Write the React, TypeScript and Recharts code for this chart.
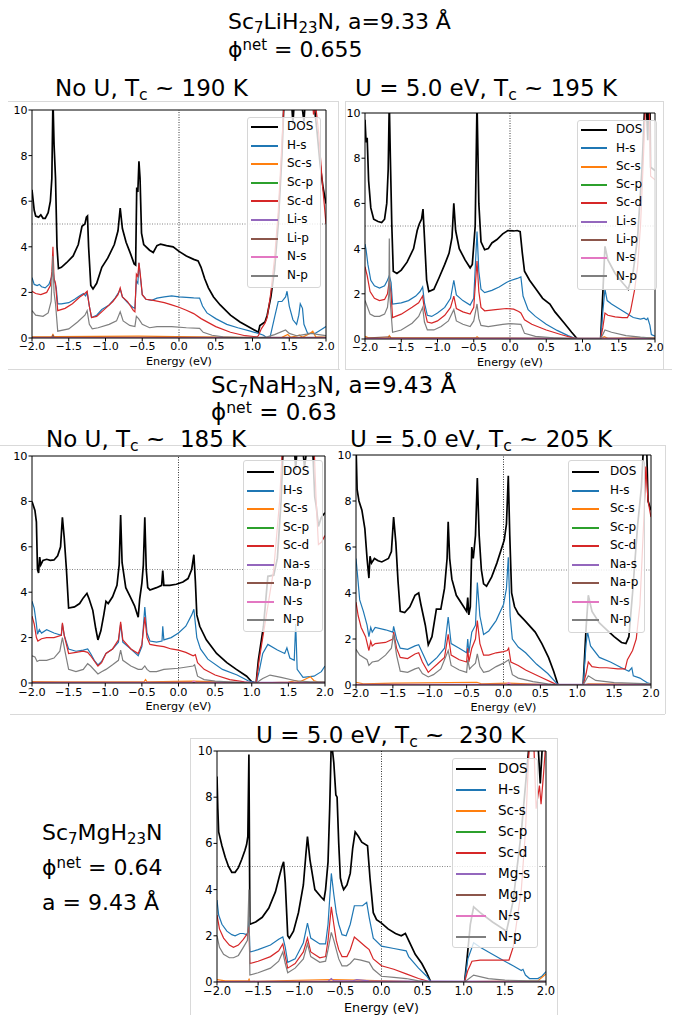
import React from "react";
import { LineChart, Line, XAxis, YAxis, ReferenceLine } from "recharts";

type P = [number, number];

const xTicks = [-2, -1.5, -1, -0.5, 0, 0.5, 1, 1.5, 2];
const yTicks = [0, 2, 4, 6, 8, 10];
const COLORS = ["#000000", "#1f77b4", "#ff7f0e", "#2ca02c", "#d62728", "#9467bd", "#8c564b", "#e377c2", "#7f7f7f"];
const labelsLi = ["DOS", "H-s", "Sc-s", "Sc-p", "Sc-d", "Li-s", "Li-p", "N-s", "N-p"];
const labelsNa = ["DOS", "H-s", "Sc-s", "Sc-p", "Sc-d", "Na-s", "Na-p", "N-s", "N-p"];
const labelsMg = ["DOS", "H-s", "Sc-s", "Sc-p", "Sc-d", "Mg-s", "Mg-p", "N-s", "N-p"];

// ---- Sc7LiH23N, no U ----
const liNoUDos: P[] = [[-2.0,6.5],[-1.97,5.6],[-1.95,5.35],[-1.91,5.3],[-1.88,5.4],[-1.85,5.25],[-1.82,5.25],[-1.78,5.5],[-1.75,6.0],[-1.73,7.0],[-1.715,10.5],[-1.7,8.5],[-1.68,7.0],[-1.66,4.0],[-1.64,3.05],[-1.6,3.1],[-1.53,3.3],[-1.44,3.6],[-1.37,4.1],[-1.32,4.9],[-1.28,5.0],[-1.26,5.3],[-1.245,5.35],[-1.23,4.0],[-1.2,2.3],[-1.17,2.15],[-1.12,2.4],[-1.05,3.1],[-0.97,3.5],[-0.88,4.1],[-0.83,4.7],[-0.8,5.7],[-0.77,4.8],[-0.72,4.2],[-0.66,3.7],[-0.61,3.25],[-0.59,3.2],[-0.575,6.6],[-0.56,6.4],[-0.545,7.75],[-0.53,7.0],[-0.51,4.6],[-0.48,4.1],[-0.4,3.85],[-0.35,3.75],[-0.3,4.05],[-0.25,4.12],[-0.17,4.05],[-0.08,4.0],[0.0,3.8],[0.1,3.6],[0.2,3.45],[0.26,3.38],[0.3,3.1],[0.35,2.6],[0.4,2.2],[0.47,1.8],[0.56,1.45],[0.7,1.0],[0.83,0.7],[0.97,0.45],[1.08,0.25],[1.1,0.55],[1.17,0.7],[1.2,1.0],[1.25,1.8],[1.3,3.0],[1.35,5.0],[1.4,8.0],[1.43,10.5],[1.5,12],[1.55,9.4],[1.6,12],[1.7,9.5],[1.75,12],[1.8,11],[1.84,10.2],[1.88,9.0],[1.92,7.6],[1.96,6.6],[2.0,5.9]];
const liNoUHs: P[] = [[-2.0,2.65],[-1.97,2.35],[-1.93,2.3],[-1.9,2.35],[-1.87,2.25],[-1.82,2.2],[-1.77,2.35],[-1.73,2.7],[-1.715,3.0],[-1.7,2.6],[-1.67,2.2],[-1.65,1.5],[-1.6,1.5],[-1.5,1.55],[-1.42,1.7],[-1.35,1.85],[-1.3,1.95],[-1.27,1.85],[-1.25,2.0],[-1.22,1.4],[-1.19,0.9],[-1.12,1.0],[-1.05,1.25],[-0.95,1.45],[-0.87,1.75],[-0.82,2.0],[-0.8,2.15],[-0.77,1.8],[-0.7,1.55],[-0.63,1.35],[-0.6,1.3],[-0.58,2.5],[-0.56,2.4],[-0.545,3.3],[-0.52,2.5],[-0.5,1.9],[-0.45,1.7],[-0.37,1.65],[-0.3,1.75],[-0.2,1.8],[-0.1,1.85],[0.0,1.8],[0.1,1.78],[0.2,1.76],[0.28,1.75],[0.32,1.4],[0.38,1.1],[0.5,0.85],[0.65,0.6],[0.8,0.45],[0.97,0.3],[1.08,0.2],[1.15,0.12],[1.2,0.0],[1.24,0.05],[1.3,0.9],[1.35,1.6],[1.4,1.6],[1.45,1.8],[1.47,2.05],[1.5,1.4],[1.55,0.8],[1.6,0.6],[1.63,1.0],[1.65,1.5],[1.68,1.3],[1.7,0.6],[1.75,0.2],[1.85,0.2],[1.9,0.3],[2.0,0.5]];
const liNoUScS: P[] = [[-2,0.05],[-1.73,0.06],[-1.715,0.15],[-1.7,0.06],[-0.55,0.08],[1.0,0.02],[1.4,0.03],[1.48,0.15],[1.52,0.03],[1.64,0.12],[1.68,0.03],[1.78,0.2],[1.82,0.3],[1.86,0.05],[2,0.03]];
const liNoUScP: P[] = [[-2,0.02],[1.2,0.01],[2,0.02]];
const liNoUScD: P[] = [[-2.0,2.05],[-1.95,1.95],[-1.88,1.9],[-1.8,2.0],[-1.75,2.3],[-1.73,2.9],[-1.715,4.0],[-1.7,2.6],[-1.68,2.4],[-1.65,1.2],[-1.55,1.3],[-1.45,1.5],[-1.35,1.8],[-1.28,1.95],[-1.25,2.05],[-1.22,1.4],[-1.19,0.9],[-1.12,0.95],[-1.0,1.3],[-0.9,1.6],[-0.83,1.9],[-0.8,2.2],[-0.77,1.8],[-0.7,1.6],[-0.62,1.2],[-0.6,1.15],[-0.58,2.8],[-0.56,2.7],[-0.545,3.3],[-0.52,2.6],[-0.5,1.9],[-0.45,1.7],[-0.35,1.65],[-0.2,1.55],[-0.1,1.45],[0.0,1.35],[0.1,1.22],[0.2,1.07],[0.3,0.85],[0.5,0.5],[0.7,0.25],[0.9,0.1],[1.06,0.05],[1.08,0.1],[1.12,0.4],[1.17,0.65],[1.2,0.9],[1.25,2.0],[1.3,3.5],[1.35,5.5],[1.4,8.5],[1.43,10.5],[1.8,11],[1.83,9.8],[1.86,10.2],[1.9,9.0],[1.95,6.8],[2.0,5.0]];
const liNoUAs: P[] = [[-2,0.02],[2,0.02]];
const liNoUAp: P[] = [[-2,0.03],[-1.73,0.03],[-1.715,0.12],[-1.7,0.03],[2,0.03]];
const liNoUNs: P[] = [[-2,0.01],[2,0.01]];
const liNoUNp: P[] = [[-2.0,1.2],[-1.95,1.0],[-1.85,0.95],[-1.78,1.1],[-1.74,1.6],[-1.715,3.6],[-1.7,2.0],[-1.68,1.5],[-1.65,0.3],[-1.5,0.4],[-1.38,0.7],[-1.28,1.0],[-1.25,1.2],[-1.22,0.6],[-1.18,0.4],[-1.1,0.45],[-0.95,0.6],[-0.85,0.75],[-0.8,1.15],[-0.76,0.75],[-0.67,0.55],[-0.6,0.5],[-0.58,0.95],[-0.55,0.85],[-0.5,0.6],[-0.4,0.45],[-0.3,0.5],[-0.1,0.5],[0.1,0.45],[0.28,0.42],[0.33,0.25],[0.45,0.12],[0.6,0.05],[0.8,0.02],[1.08,0.0],[1.2,0.05],[1.3,0.15],[1.45,0.35],[1.5,0.2],[1.6,0.1],[1.7,0.15],[1.8,0.2],[1.9,0.15],[2.0,0.1]];

// ---- Sc7LiH23N, U = 5 eV ----
const liUDos: P[] = [[-2.0,9.7],[-1.985,8.7],[-1.97,8.9],[-1.95,7.0],[-1.92,5.8],[-1.88,5.3],[-1.82,5.2],[-1.77,5.15],[-1.73,5.3],[-1.7,6.0],[-1.68,7.5],[-1.665,10.5],[-1.65,8.0],[-1.63,5.0],[-1.61,3.0],[-1.56,2.9],[-1.5,3.05],[-1.42,3.4],[-1.33,4.0],[-1.28,4.8],[-1.25,5.1],[-1.22,5.3],[-1.2,5.75],[-1.18,4.5],[-1.15,2.6],[-1.12,2.1],[-1.05,2.2],[-0.98,2.7],[-0.9,3.3],[-0.84,3.8],[-0.8,4.5],[-0.775,6.0],[-0.75,4.8],[-0.7,4.0],[-0.62,3.5],[-0.55,3.15],[-0.52,3.3],[-0.48,5.0],[-0.455,10.5],[-0.43,6.0],[-0.4,4.3],[-0.35,3.95],[-0.3,4.0],[-0.25,4.25],[-0.18,4.4],[-0.1,4.65],[-0.03,4.8],[0.05,4.78],[0.1,4.8],[0.14,4.75],[0.17,3.8],[0.2,3.0],[0.27,2.6],[0.35,2.25],[0.45,1.8],[0.55,1.55],[0.62,1.2],[0.75,0.7],[0.85,0.3],[0.93,0.0],[1.25,0.0],[1.28,2.0],[1.31,4.1],[1.35,3.5],[1.45,2.9],[1.55,2.5],[1.63,2.2],[1.7,3.0],[1.76,4.5],[1.82,7.5],[1.86,10.5],[1.88,10.5],[1.9,8.8],[1.91,10.5],[1.93,10.5],[1.94,7.6],[2.0,7.45]];
const liUHs: P[] = [[-2.0,4.2],[-1.985,3.95],[-1.96,3.3],[-1.92,2.6],[-1.87,2.35],[-1.8,2.25],[-1.73,2.35],[-1.69,2.6],[-1.665,2.8],[-1.64,2.5],[-1.62,1.55],[-1.5,1.6],[-1.4,1.7],[-1.3,1.9],[-1.24,2.1],[-1.205,2.3],[-1.18,1.6],[-1.14,1.05],[-1.08,1.0],[-1.0,1.15],[-0.9,1.4],[-0.82,1.8],[-0.775,2.6],[-0.74,1.95],[-0.65,1.7],[-0.55,1.5],[-0.5,1.8],[-0.455,4.75],[-0.43,3.0],[-0.4,2.2],[-0.35,2.05],[-0.25,2.15],[-0.15,2.3],[-0.05,2.5],[0.0,2.58],[0.1,2.68],[0.15,2.75],[0.18,1.9],[0.25,1.3],[0.35,1.0],[0.5,0.65],[0.65,0.38],[0.8,0.15],[0.92,0.0],[1.25,0.0],[1.28,1.2],[1.31,2.2],[1.34,1.7],[1.4,1.55],[1.5,1.35],[1.6,1.15],[1.7,0.95],[1.8,0.88],[1.85,0.92],[1.88,0.85],[1.9,0.92],[1.93,0.6],[1.95,0.2],[2.0,0.12]];
const liUScS: P[] = [[-2,0.12],[-1.95,0.05],[-1.68,0.05],[-1.665,0.15],[-1.64,0.05],[-0.47,0.05],[-0.455,0.1],[-0.43,0.04],[0.9,0.0],[1.25,0.0],[1.3,0.1],[1.35,0.03],[2,0.05]];
const liUScP: P[] = [[-2,0.02],[2,0.02]];
const liUScD: P[] = [[-2.0,3.2],[-1.97,2.8],[-1.93,2.1],[-1.87,1.8],[-1.8,1.7],[-1.73,1.75],[-1.69,2.0],[-1.665,2.6],[-1.64,2.0],[-1.62,0.95],[-1.5,1.1],[-1.35,1.4],[-1.26,1.6],[-1.205,1.9],[-1.18,1.3],[-1.14,0.75],[-1.08,0.7],[-1.0,0.8],[-0.9,1.05],[-0.82,1.4],[-0.775,1.9],[-0.74,1.35],[-0.65,1.2],[-0.55,1.1],[-0.5,1.4],[-0.455,3.45],[-0.43,2.1],[-0.4,1.4],[-0.35,1.25],[-0.2,1.3],[-0.05,1.35],[0.05,1.32],[0.12,1.22],[0.15,1.15],[0.2,0.85],[0.3,0.65],[0.5,0.4],[0.7,0.2],[0.9,0.02],[0.93,0.0],[1.25,0.0],[1.28,0.5],[1.31,1.15],[1.35,1.05],[1.45,0.98],[1.55,0.95],[1.62,0.95],[1.66,1.2],[1.72,2.2],[1.76,3.2],[1.8,5.0],[1.84,8.0],[1.87,10.5],[1.92,10.5],[1.94,7.2],[2.0,7.05]];
const liUAs: P[] = [[-2,0.03],[2,0.03]];
const liUAp: P[] = [[-2,0.04],[-1.665,0.1],[-1.64,0.04],[2,0.03]];
const liUNs: P[] = [[-2,0.02],[2,0.02]];
const liUNp: P[] = [[-2.0,1.7],[-1.97,1.45],[-1.93,1.1],[-1.87,1.0],[-1.8,1.0],[-1.73,1.1],[-1.69,1.4],[-1.67,2.0],[-1.665,4.45],[-1.655,1.8],[-1.62,0.3],[-1.5,0.4],[-1.35,0.7],[-1.26,1.0],[-1.205,1.4],[-1.18,0.75],[-1.14,0.4],[-1.05,0.4],[-0.95,0.55],[-0.85,0.8],[-0.775,1.3],[-0.74,0.8],[-0.65,0.65],[-0.55,0.55],[-0.5,0.8],[-0.455,1.55],[-0.43,0.9],[-0.4,0.6],[-0.3,0.55],[-0.1,0.65],[0.0,0.68],[0.15,0.65],[0.2,0.25],[0.35,0.12],[0.6,0.05],[0.9,0.0],[1.25,0.0],[1.31,0.4],[1.4,0.3],[1.6,0.15],[1.8,0.08],[2.0,0.03]];

// ---- Sc7NaH23N, no U ----
const naNoUDos: P[] = [[-2.0,8.0],[-1.96,7.6],[-1.94,7.1],[-1.925,5.0],[-1.91,4.85],[-1.895,5.55],[-1.88,5.2],[-1.85,5.4],[-1.8,5.45],[-1.75,5.4],[-1.7,5.42],[-1.65,5.6],[-1.61,6.0],[-1.585,7.3],[-1.56,6.4],[-1.53,5.0],[-1.5,3.3],[-1.42,3.35],[-1.35,3.5],[-1.3,3.75],[-1.25,3.95],[-1.22,3.7],[-1.17,3.2],[-1.13,2.4],[-1.1,1.9],[-1.06,2.3],[-1.02,3.0],[-0.99,3.6],[-0.96,3.5],[-0.9,3.8],[-0.84,4.3],[-0.81,5.2],[-0.79,7.4],[-0.77,5.3],[-0.72,4.2],[-0.66,3.8],[-0.6,3.4],[-0.56,3.0],[-0.55,2.9],[-0.53,3.7],[-0.5,4.4],[-0.48,5.2],[-0.46,7.3],[-0.44,5.0],[-0.42,4.2],[-0.39,4.1],[-0.3,4.2],[-0.23,4.3],[-0.215,4.95],[-0.2,4.3],[-0.12,4.3],[-0.03,4.35],[0.06,4.45],[0.13,4.6],[0.18,5.0],[0.21,5.65],[0.23,4.5],[0.25,3.0],[0.29,2.5],[0.38,1.9],[0.52,1.3],[0.66,0.9],[0.79,0.6],[0.93,0.3],[1.0,0.05],[1.06,0.0],[1.09,1.0],[1.16,2.5],[1.22,4.7],[1.3,4.75],[1.35,5.5],[1.4,8.0],[1.43,10.5],[1.55,12],[1.6,9.4],[1.65,12],[1.72,9.5],[1.78,11],[1.83,10.5],[1.86,8.2],[1.88,7.8],[1.91,6.9],[1.95,7.3],[2.0,7.5]];
const naNoUHs: P[] = [[-2.0,3.6],[-1.97,3.3],[-1.94,2.6],[-1.925,2.15],[-1.9,2.35],[-1.87,2.2],[-1.8,2.35],[-1.7,2.2],[-1.6,2.1],[-1.585,2.6],[-1.56,2.1],[-1.5,1.5],[-1.4,1.4],[-1.3,1.45],[-1.24,1.5],[-1.2,1.3],[-1.15,1.0],[-1.1,0.8],[-1.05,0.95],[-0.99,1.3],[-0.9,1.5],[-0.82,1.8],[-0.79,2.6],[-0.76,1.8],[-0.65,1.5],[-0.55,1.2],[-0.5,1.6],[-0.46,3.35],[-0.43,2.2],[-0.39,1.85],[-0.3,1.8],[-0.225,1.85],[-0.215,2.5],[-0.2,1.9],[-0.1,2.0],[0.0,2.2],[0.1,2.5],[0.18,3.0],[0.21,3.25],[0.25,2.0],[0.3,1.5],[0.4,1.05],[0.6,0.6],[0.8,0.35],[0.95,0.1],[1.06,0.0],[1.1,0.5],[1.15,1.3],[1.22,1.7],[1.35,1.45],[1.45,1.3],[1.48,1.55],[1.52,1.1],[1.58,1.0],[1.6,2.6],[1.62,0.6],[1.7,0.25],[1.85,0.3],[1.95,0.5],[2.0,0.75]];
const naNoUScS: P[] = [[-2,0.06],[-1.6,0.05],[-0.47,0.05],[-0.45,0.15],[-0.43,0.05],[0.2,0.08],[1.06,0.0],[1.5,0.04],[1.6,0.1],[1.65,0.04],[1.75,0.2],[1.8,0.28],[1.85,0.1],[1.9,0.05],[2,0.03]];
const naNoUScP: P[] = [[-2,0.02],[2,0.02]];
const naNoUScD: P[] = [[-2.0,2.95],[-1.97,2.6],[-1.94,2.0],[-1.92,1.85],[-1.87,1.95],[-1.8,2.0],[-1.7,2.0],[-1.6,2.1],[-1.585,2.65],[-1.56,2.1],[-1.5,1.3],[-1.4,1.35],[-1.3,1.4],[-1.24,1.35],[-1.2,1.2],[-1.1,0.75],[-1.05,0.9],[-0.99,1.3],[-0.9,1.5],[-0.82,1.9],[-0.79,2.7],[-0.76,1.9],[-0.65,1.5],[-0.55,1.3],[-0.5,1.7],[-0.46,2.9],[-0.43,2.0],[-0.39,1.7],[-0.3,1.65],[-0.2,1.6],[-0.1,1.5],[0.0,1.45],[0.1,1.35],[0.2,1.2],[0.23,1.25],[0.26,0.9],[0.35,0.6],[0.5,0.35],[0.7,0.15],[0.9,0.05],[1.06,0.0],[1.1,1.0],[1.15,2.0],[1.2,3.0],[1.3,5.0],[1.38,8.0],[1.42,10.5],[1.85,10.5],[1.88,8.0],[1.91,6.1],[1.95,6.2],[2.0,6.5]];
const naNoUAs: P[] = [[-2,0.03],[2,0.03]];
const naNoUAp: P[] = [[-2,0.02],[2,0.02]];
const naNoUNs: P[] = [[-2,0.02],[0.18,0.02],[0.21,0.08],[0.24,0.02],[2,0.02]];
const naNoUNp: P[] = [[-2.0,1.2],[-1.96,1.15],[-1.93,0.95],[-1.9,1.0],[-1.8,1.0],[-1.7,1.1],[-1.62,1.4],[-1.585,2.0],[-1.55,1.4],[-1.5,0.6],[-1.4,0.5],[-1.3,0.6],[-1.24,0.85],[-1.2,0.75],[-1.1,0.4],[-1.05,0.5],[-0.99,0.6],[-0.9,0.8],[-0.82,1.0],[-0.79,1.45],[-0.76,1.0],[-0.65,0.75],[-0.55,0.6],[-0.5,0.6],[-0.46,0.75],[-0.43,0.6],[-0.39,0.5],[-0.3,0.5],[-0.2,0.6],[0.0,0.65],[0.2,0.75],[0.22,0.8],[0.26,0.3],[0.35,0.15],[0.5,0.08],[0.8,0.03],[1.06,0.0],[1.15,0.2],[1.25,0.35],[1.4,0.25],[1.6,0.1],[1.8,0.05],[2.0,0.05]];

// ---- Sc7NaH23N, U = 5 eV ----
const naUDos: P[] = [[-2.0,10.5],[-1.985,8.5],[-1.96,8.0],[-1.92,7.6],[-1.88,6.8],[-1.85,5.5],[-1.825,4.65],[-1.81,5.6],[-1.79,5.3],[-1.75,5.5],[-1.7,5.4],[-1.65,5.35],[-1.56,5.5],[-1.52,5.8],[-1.49,7.3],[-1.46,6.2],[-1.43,4.5],[-1.4,3.2],[-1.34,3.15],[-1.27,3.4],[-1.2,3.9],[-1.15,4.0],[-1.12,3.5],[-1.06,2.6],[-1.02,1.75],[-0.97,2.1],[-0.91,3.3],[-0.85,3.3],[-0.8,4.2],[-0.765,5.5],[-0.75,7.1],[-0.73,5.5],[-0.7,4.6],[-0.64,3.9],[-0.54,3.4],[-0.5,3.2],[-0.485,3.8],[-0.47,3.05],[-0.45,3.4],[-0.43,6.0],[-0.41,5.5],[-0.38,6.5],[-0.355,9.0],[-0.33,6.5],[-0.3,5.0],[-0.27,4.4],[-0.23,4.3],[-0.16,4.7],[-0.09,5.3],[-0.02,6.0],[0.01,6.3],[0.04,7.0],[0.065,9.1],[0.085,6.5],[0.11,4.0],[0.15,3.4],[0.2,3.1],[0.29,2.8],[0.43,2.3],[0.52,1.8],[0.61,1.2],[0.68,0.6],[0.74,0.0],[1.08,0.0],[1.12,2.5],[1.15,3.9],[1.2,3.2],[1.3,2.7],[1.4,2.4],[1.5,2.1],[1.6,1.85],[1.66,1.8],[1.7,2.1],[1.75,4.0],[1.82,7.0],[1.87,8.6],[1.9,10.5],[1.94,10.5],[1.96,8.0],[2.0,7.6]];
const naUHs: P[] = [[-2.0,5.5],[-1.98,4.8],[-1.95,3.7],[-1.9,3.2],[-1.85,2.6],[-1.825,2.1],[-1.8,2.5],[-1.78,2.3],[-1.74,2.5],[-1.6,2.4],[-1.5,2.3],[-1.49,2.55],[-1.45,2.0],[-1.4,1.6],[-1.3,1.55],[-1.2,1.7],[-1.15,1.75],[-1.1,1.4],[-1.02,0.85],[-0.97,1.0],[-0.9,1.2],[-0.8,1.6],[-0.75,2.95],[-0.71,1.8],[-0.6,1.6],[-0.5,1.4],[-0.485,2.0],[-0.47,1.4],[-0.43,2.3],[-0.38,2.6],[-0.355,4.45],[-0.32,3.0],[-0.27,2.2],[-0.2,2.35],[-0.1,2.8],[0.0,3.5],[0.04,4.2],[0.065,5.55],[0.09,3.0],[0.12,2.0],[0.2,1.65],[0.3,1.4],[0.45,0.9],[0.6,0.5],[0.7,0.15],[0.74,0.0],[1.08,0.0],[1.12,1.8],[1.14,2.3],[1.18,1.7],[1.3,1.2],[1.45,1.0],[1.6,0.75],[1.7,0.6],[1.74,0.75],[1.76,0.4],[1.85,0.3],[1.9,0.2],[1.95,0.1],[2.0,0.05]];
const naUScS: P[] = [[-2,0.12],[-1.9,0.05],[-1.49,0.08],[-0.36,0.12],[-0.3,0.05],[0.07,0.08],[0.74,0.0],[1.08,0.0],[1.15,0.05],[2,0.03]];
const naUScP: P[] = [[-2,0.02],[2,0.02]];
const naUScD: P[] = [[-2.0,3.6],[-1.97,3.0],[-1.93,2.5],[-1.87,2.1],[-1.825,1.5],[-1.8,1.9],[-1.78,1.7],[-1.74,1.8],[-1.6,1.85],[-1.5,2.0],[-1.49,2.3],[-1.45,1.6],[-1.4,1.2],[-1.3,1.15],[-1.2,1.35],[-1.15,1.4],[-1.1,1.0],[-1.02,0.55],[-0.97,0.7],[-0.9,0.9],[-0.8,1.2],[-0.75,2.2],[-0.71,1.3],[-0.6,1.1],[-0.5,1.0],[-0.485,1.6],[-0.47,1.0],[-0.43,1.6],[-0.38,2.0],[-0.355,2.8],[-0.32,1.8],[-0.27,1.3],[-0.2,1.3],[-0.1,1.4],[0.0,1.45],[0.05,1.5],[0.07,1.6],[0.1,1.0],[0.2,0.85],[0.3,0.65],[0.5,0.35],[0.7,0.05],[0.74,0.0],[1.08,0.0],[1.12,0.5],[1.15,1.0],[1.2,0.8],[1.3,0.75],[1.4,0.75],[1.55,0.7],[1.65,0.7],[1.68,1.1],[1.75,1.5],[1.8,2.0],[1.85,3.5],[1.9,7.0],[1.93,9.5],[1.96,8.0],[2.0,7.3]];
const naUAs: P[] = [[-2,0.03],[2,0.03]];
const naUAp: P[] = [[-2,0.02],[2,0.02]];
const naUNs: P[] = [[-2,0.02],[0.04,0.02],[0.07,0.1],[0.1,0.02],[2,0.02]];
const naUNp: P[] = [[-2.0,1.55],[-1.95,1.3],[-1.85,1.1],[-1.825,0.85],[-1.78,1.0],[-1.7,1.05],[-1.6,1.3],[-1.52,1.6],[-1.49,2.2],[-1.45,1.3],[-1.4,0.6],[-1.3,0.55],[-1.2,0.7],[-1.15,0.75],[-1.1,0.5],[-1.02,0.35],[-0.95,0.45],[-0.85,0.7],[-0.75,1.5],[-0.71,0.85],[-0.6,0.65],[-0.5,0.55],[-0.485,1.1],[-0.46,0.7],[-0.43,0.8],[-0.38,0.95],[-0.355,1.35],[-0.32,0.8],[-0.27,0.55],[-0.2,0.6],[-0.1,0.8],[0.0,0.95],[0.05,1.05],[0.07,1.1],[0.12,0.45],[0.2,0.3],[0.4,0.15],[0.6,0.05],[0.74,0.0],[1.08,0.0],[1.15,0.4],[1.25,0.2],[1.5,0.1],[2.0,0.05]];

// ---- Sc7MgH23N, U = 5 eV ----
const mgUDos: P[] = [[-2.0,8.9],[-1.99,7.5],[-1.98,6.5],[-1.94,5.9],[-1.9,5.4],[-1.86,5.0],[-1.82,4.75],[-1.78,4.75],[-1.74,4.95],[-1.7,5.3],[-1.66,5.7],[-1.64,5.95],[-1.625,6.3],[-1.612,9.85],[-1.6,2.5],[-1.53,2.6],[-1.45,2.8],[-1.37,3.2],[-1.29,3.9],[-1.24,4.6],[-1.21,5.0],[-1.19,5.2],[-1.17,4.3],[-1.14,2.0],[-1.12,1.9],[-1.07,2.2],[-1.01,3.0],[-0.95,4.2],[-0.92,5.5],[-0.9,6.3],[-0.87,5.3],[-0.81,4.0],[-0.74,3.7],[-0.7,3.55],[-0.68,4.0],[-0.65,5.2],[-0.63,7.5],[-0.61,10.5],[-0.58,9.5],[-0.555,8.1],[-0.54,8.0],[-0.52,6.0],[-0.5,4.5],[-0.48,4.2],[-0.46,4.0],[-0.42,4.2],[-0.38,4.7],[-0.35,5.8],[-0.32,6.5],[-0.28,6.3],[-0.24,6.05],[-0.17,5.9],[-0.14,4.5],[-0.1,3.0],[-0.06,2.7],[0.0,2.55],[0.08,2.3],[0.17,2.1],[0.24,2.0],[0.29,2.1],[0.33,1.8],[0.41,1.2],[0.49,0.8],[0.55,0.4],[0.6,0.0],[1.01,0.0],[1.04,1.0],[1.08,2.5],[1.12,3.25],[1.2,3.0],[1.35,2.6],[1.52,2.2],[1.6,3.5],[1.7,6.5],[1.75,8.5],[1.8,10.5],[1.9,10.5],[1.93,8.6],[1.96,10.5],[2.0,11]];
const mgUHs: P[] = [[-2.0,3.55],[-1.98,2.9],[-1.94,2.5],[-1.88,2.2],[-1.82,2.05],[-1.78,2.0],[-1.72,2.1],[-1.68,2.1],[-1.64,2.05],[-1.62,2.2],[-1.612,2.8],[-1.6,1.3],[-1.5,1.4],[-1.35,1.6],[-1.25,1.85],[-1.2,1.95],[-1.17,1.5],[-1.14,0.85],[-1.05,1.0],[-0.95,1.7],[-0.9,2.55],[-0.86,1.9],[-0.75,1.65],[-0.68,1.65],[-0.65,2.5],[-0.61,4.7],[-0.58,3.8],[-0.55,3.0],[-0.52,2.5],[-0.48,2.05],[-0.43,2.0],[-0.38,2.5],[-0.33,3.3],[-0.28,3.3],[-0.23,3.3],[-0.18,3.45],[-0.15,2.8],[-0.1,1.9],[0.0,1.55],[0.15,1.45],[0.3,1.35],[0.33,1.1],[0.45,0.6],[0.55,0.25],[0.6,0.0],[1.01,0.0],[1.05,1.0],[1.12,1.7],[1.2,1.5],[1.3,1.3],[1.45,1.0],[1.6,0.7],[1.7,0.5],[1.72,0.55],[1.75,0.3],[1.8,0.15],[1.9,0.15],[1.95,0.25],[2.0,0.45]];
const mgUScS: P[] = [[-2,0.1],[-1.9,0.05],[-1.62,0.05],[-1.61,0.12],[-1.6,0.03],[-0.61,0.1],[-0.3,0.08],[0.6,0.0],[1.9,0.05],[2.0,0.35]];
const mgUScP: P[] = [[-2,0.02],[2,0.02]];
const mgUScD: P[] = [[-2.0,2.9],[-1.97,2.3],[-1.92,1.9],[-1.85,1.6],[-1.8,1.5],[-1.74,1.6],[-1.68,1.85],[-1.63,2.1],[-1.612,2.4],[-1.6,0.8],[-1.5,0.9],[-1.35,1.1],[-1.25,1.35],[-1.2,1.65],[-1.17,1.1],[-1.14,0.6],[-1.05,0.8],[-0.95,1.3],[-0.9,1.9],[-0.86,1.3],[-0.75,1.05],[-0.68,1.1],[-0.65,1.8],[-0.61,3.25],[-0.58,2.5],[-0.55,1.8],[-0.52,1.4],[-0.48,1.1],[-0.42,1.1],[-0.38,1.4],[-0.33,1.95],[-0.28,1.8],[-0.2,1.55],[-0.15,1.4],[-0.1,1.0],[0.0,0.7],[0.15,0.55],[0.3,0.35],[0.45,0.15],[0.6,0.0],[1.01,0.0],[1.05,0.5],[1.1,0.9],[1.2,0.95],[1.4,0.95],[1.55,0.95],[1.6,1.5],[1.7,4.0],[1.75,6.5],[1.78,9.0],[1.8,10.5],[1.85,10.5],[1.88,7.5],[1.92,8.5],[1.94,7.7],[1.97,9.0],[2.0,10.5]];
const mgUAs: P[] = [[-2,0.02],[-0.65,0.03],[-0.61,0.15],[-0.58,0.05],[-0.35,0.05],[-0.3,0.1],[-0.15,0.05],[2,0.02]];
const mgUAp: P[] = [[-2,0.02],[2,0.02]];
const mgUNs: P[] = [[-2,0.02],[2,0.02]];
const mgUNp: P[] = [[-2.0,2.0],[-1.97,1.5],[-1.92,1.2],[-1.85,1.05],[-1.8,1.05],[-1.74,1.15],[-1.68,1.5],[-1.63,1.8],[-1.612,4.0],[-1.6,0.3],[-1.5,0.4],[-1.35,0.6],[-1.25,0.9],[-1.2,1.3],[-1.17,0.8],[-1.14,0.4],[-1.05,0.6],[-0.95,1.0],[-0.9,1.65],[-0.86,1.1],[-0.75,0.85],[-0.68,0.9],[-0.65,1.4],[-0.61,2.15],[-0.58,1.8],[-0.55,1.4],[-0.52,1.0],[-0.48,0.7],[-0.42,0.7],[-0.38,0.8],[-0.33,1.0],[-0.25,0.95],[-0.15,0.85],[-0.1,0.55],[0.0,0.25],[0.15,0.2],[0.3,0.15],[0.45,0.05],[0.6,0.0],[1.01,0.0],[1.12,0.3],[1.3,0.15],[1.5,0.08],[1.8,0.05],[2.0,0.05]];

const pts = (a: P[]) => a.map(([e, v]) => ({ e, v }));
const fmtX = (v: number) => (v < 0 ? "\u2212" : "") + Math.abs(v).toFixed(1);

const FONT = "'DejaVu Sans', sans-serif";
const YW = 30;
const MT = 8;
const MR = 12;
const MB = 5;

type LegendBox = { left: number; top: number; width: number; height: number; row0: number; step: number; lineW: number; textLeft: number; fs: number };

function DosPanel(props: { x0: number; y0: number; w: number; h: number; fs: number; lfs: number; xh: number; series: P[][]; labels: string[]; lg: LegendBox }) {
  const { x0, y0, w, h, fs, lfs, xh, series, labels, lg } = props;
  return (
    <>
      <div style={{ position: "absolute", left: x0 - YW, top: y0 - MT }}>
        <LineChart width={w + YW + MR} height={h + MT + xh + MB} margin={{ top: MT, right: MR, left: 0, bottom: MB }}>
          <XAxis
            type="number"
            dataKey="e"
            domain={[-2, 2]}
            ticks={xTicks}
            tickFormatter={fmtX}
            allowDataOverflow
            height={xh}
            stroke="#000"
            tickSize={3.5}
            tickMargin={1}
            tick={{ fontSize: fs, fill: "#000" }}
            label={{ value: "Energy (eV)", position: "insideBottom", offset: 0, fontSize: lfs, fill: "#000" }}
          />
          <YAxis
            type="number"
            domain={[0, 10]}
            ticks={yTicks}
            allowDataOverflow
            width={YW}
            stroke="#000"
            tickSize={3.5}
            tickMargin={1}
            tick={{ fontSize: fs, fill: "#000" }}
          />
          <ReferenceLine y={5} stroke="#666" strokeWidth={0.8} strokeDasharray="1 1.5" />
          <ReferenceLine x={0} stroke="#000" strokeWidth={0.8} strokeDasharray="1 1.5" />
          {series.map((s, i) => (
            <Line
              key={labels[i]}
              data={pts(s)}
              dataKey="v"
              type="linear"
              stroke={COLORS[i]}
              strokeWidth={i === 0 ? 1.7 : 1.2}
              dot={false}
              activeDot={false}
              isAnimationActive={false}
            />
          ))}
          <ReferenceLine y={10} stroke="#000" strokeWidth={1} />
          <ReferenceLine x={2} stroke="#000" strokeWidth={1} />
        </LineChart>
      </div>
      <div
        style={{
          position: "absolute",
          left: lg.left,
          top: lg.top,
          width: lg.width,
          height: lg.height,
          background: "rgba(255,255,255,0.8)",
          border: "1px solid #d6d6d6",
          borderRadius: 3,
          boxSizing: "border-box",
        }}
      />
      {labels.map((lab, i) => {
        const cy = lg.row0 + i * lg.step;
        return (
          <React.Fragment key={lab}>
            <div style={{ position: "absolute", left: lg.left + 4, top: cy - 1, width: lg.lineW, height: 2, background: COLORS[i] }} />
            <div style={{ position: "absolute", left: lg.textLeft, top: cy - lg.fs * 0.65, fontSize: lg.fs, lineHeight: `${lg.fs * 1.3}px`, whiteSpace: "nowrap" }}>{lab}</div>
          </React.Fragment>
        );
      })}
    </>
  );
}

const sub = (t: string) => <span style={{ fontSize: "0.68em", position: "relative", top: "0.28em" }}>{t}</span>;
const sup = (t: string) => <span style={{ fontSize: "0.68em", position: "relative", top: "-0.45em" }}>{t}</span>;

function T({ x, y, fs = 22, children }: { x: number; y: number; fs?: number; children: React.ReactNode }) {
  return (
    <div style={{ position: "absolute", left: x, top: y - 13, fontSize: fs, lineHeight: "26px", whiteSpace: "nowrap" }}>{children}</div>
  );
}

function Frame({ x, y, w, h }: { x: number; y: number; w: number; h: number }) {
  return <div style={{ position: "absolute", left: x, top: y, width: w, height: h, background: "#d9d9d9" }} />;
}

export default function App() {
  return (
    <div style={{ position: "absolute", left: 0, top: 0, width: 676, height: 1015, background: "#fff", fontFamily: FONT, color: "#000", overflow: "hidden" }}>
      {/* faint borders of the pasted panels */}
      <Frame x={8} y={101} w={330} h={1} />
      <Frame x={338} y={101} w={1} h={268} />
      <Frame x={8} y={369} w={332} h={1} />
      <Frame x={345} y={101} w={318} h={1} />
      <Frame x={345} y={101} w={1} h={268} />
      <Frame x={663} y={101} w={1} h={268} />
      <Frame x={345} y={369} w={327} h={1} />
      <Frame x={0} y={445} w={340} h={1} />
      <Frame x={340} y={445} w={325} h={1} />
      <Frame x={665} y={445} w={1} h={269} />
      <Frame x={10} y={714} w={335} h={1} />
      <Frame x={345} y={714} w={320} h={1} />
      <Frame x={190} y={738} w={367} h={1} />
      <Frame x={190} y={738} w={1} h={277} />
      <Frame x={557} y={738} w={1} h={277} />

      <T x={228} y={22}>Sc{sub("7")}LiH{sub("23")}N, a=9.33 Å</T>
      <T x={228} y={50}>ϕ{sup("net")} = 0.655</T>
      <T x={55} y={88} fs={23}>No U, T{sub("c")} ~ 190 K</T>
      <T x={355} y={88} fs={23}>U = 5.0 eV, T{sub("c")} ~ 195 K</T>

      <T x={211} y={385} fs={23}>Sc{sub("7")}NaH{sub("23")}N, a=9.43 Å</T>
      <T x={211} y={412} fs={23}>ϕ{sup("net")} = 0.63</T>
      <T x={46} y={439} fs={23}>No U, T{sub("c")} ~&nbsp; 185 K</T>
      <T x={350} y={439} fs={23}>U = 5.0 eV, T{sub("c")} ~ 205 K</T>

      <T x={256} y={735} fs={23}>U = 5.0 eV, T{sub("c")} ~&nbsp; 230 K</T>
      <T x={42} y={833}>Sc{sub("7")}MgH{sub("23")}N</T>
      <T x={42} y={868}>ϕ{sup("net")} = 0.64</T>
      <T x={42} y={903}>a = 9.43 Å</T>

      <DosPanel
        x0={32} y0={110} w={294} h={228} fs={11} lfs={11.2} xh={27}
        series={[liNoUDos, liNoUHs, liNoUScS, liNoUScP, liNoUScD, liNoUAs, liNoUAp, liNoUNs, liNoUNp]}
        labels={labelsLi}
        lg={{ left: 247, top: 117, width: 74, height: 171, row0: 127, step: 18.6, lineW: 27, textLeft: 287, fs: 12 }}
      />
      <DosPanel
        x0={365} y0={113} w={290} h={226} fs={11} lfs={11.2} xh={27}
        series={[liUDos, liUHs, liUScS, liUScP, liUScD, liUAs, liUAp, liUNs, liUNp]}
        labels={labelsLi}
        lg={{ left: 577, top: 120, width: 80, height: 170, row0: 130, step: 18.3, lineW: 26, textLeft: 616, fs: 12 }}
      />
      <DosPanel
        x0={32} y0={456} w={293} h={227} fs={11.3} lfs={11.2} xh={27}
        series={[naNoUDos, naNoUHs, naNoUScS, naNoUScP, naNoUScD, naNoUAs, naNoUAp, naNoUNs, naNoUNp]}
        labels={labelsNa}
        lg={{ left: 243, top: 460, width: 80, height: 172, row0: 472, step: 18.5, lineW: 27, textLeft: 283, fs: 12 }}
      />
      <DosPanel
        x0={356} y0={455} w={295} h={230} fs={11} lfs={11.2} xh={26}
        series={[naUDos, naUHs, naUScS, naUScP, naUScD, naUAs, naUAp, naUNs, naUNp]}
        labels={labelsNa}
        lg={{ left: 568, top: 460, width: 77, height: 173, row0: 472, step: 18.5, lineW: 27, textLeft: 610, fs: 12 }}
      />
      <DosPanel
        x0={217} y0={751} w={329} h={231} fs={11.5} lfs={12.7} xh={30}
        series={[mgUDos, mgUHs, mgUScS, mgUScP, mgUScD, mgUAs, mgUAp, mgUNs, mgUNp]}
        labels={labelsMg}
        lg={{ left: 452, top: 758, width: 86, height: 190, row0: 769, step: 21, lineW: 30, textLeft: 498, fs: 13.5 }}
      />
    </div>
  );
}
